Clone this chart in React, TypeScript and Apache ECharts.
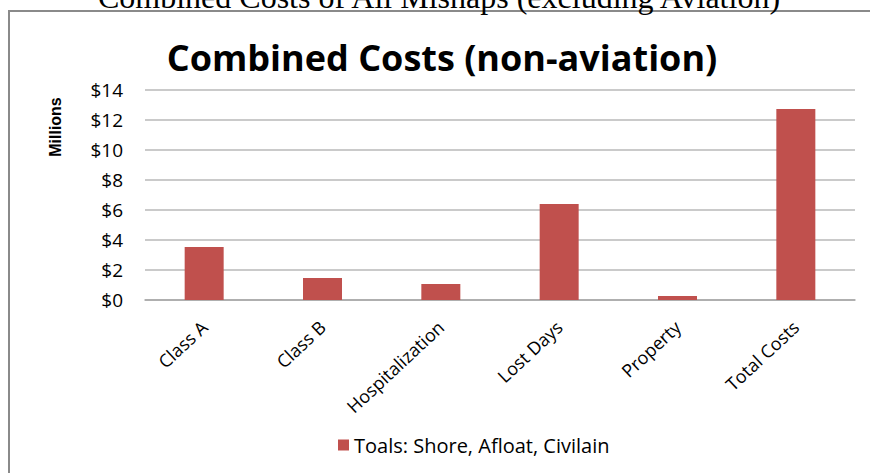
import React, { useEffect, useRef } from "react";
import * as echarts from "echarts";

const categories = ["Class A", "Class B", "Hospitalization", "Lost Days", "Property", "Total Costs"];
const values = [3.53, 1.47, 1.07, 6.4, 0.27, 12.73];
const seriesName = "Toals: Shore, Afloat, Civilain";
const pageTitle = "Combined Costs of All Mishaps (excluding Aviation)";
const chartTitle = "Combined Costs (non-aviation)";
const yAxisTitle = "Millions";
const yMin = 0;
const yMax = 14;
const yStep = 2;

export default function App() {
  const ref = useRef<HTMLDivElement>(null);
  useEffect(() => {
    if (!ref.current) return;
    const chart = echarts.init(ref.current, undefined, { renderer: "svg" });
    chart.setOption({
      animation: false,
      backgroundColor: "#ffffff",
      graphic: [
        {
          type: "polyline",
          shape: { points: [[9, 480], [9, 11], [880, 11]] },
          style: { fill: "none", stroke: "#8a8a8a", lineWidth: 2 },
          silent: true,
        },
        {
          type: "text",
          x: 439,
          y: -3,
          style: {
            text: pageTitle,
            fontFamily: "Liberation Serif",
            fontSize: 32,
            fill: "#000000",
            align: "center",
            verticalAlign: "middle",
          },
        },
        {
          type: "text",
          x: 442,
          y: 57,
          style: {
            text: chartTitle,
            fontFamily: "Open Sans",
            fontWeight: "bold",
            fontSize: 36,
            fill: "#000000",
            align: "center",
            verticalAlign: "middle",
          },
        },
        {
          type: "text",
          x: 55,
          y: 127,
          rotation: Math.PI / 2,
          style: {
            text: yAxisTitle,
            fontFamily: "Liberation Sans",
            fontWeight: "bold",
            fontSize: 16,
            fill: "#000000",
            align: "center",
            verticalAlign: "middle",
          },
        },
      ],
      legend: {
        show: true,
        data: [seriesName],
        left: 333,
        top: 430,
        itemWidth: 11,
        itemHeight: 11,
        itemGap: 6,
        icon: "rect",
        textStyle: { fontFamily: "Open Sans", fontSize: 20, color: "#000000" },
      },
      grid: { left: 145, right: 15, top: 90, bottom: 173, containLabel: false },
      xAxis: {
        type: "category",
        data: categories,
        axisLine: { show: true, lineStyle: { color: "#a6a6a6", width: 1.5 } },
        axisTick: { show: false },
        axisLabel: {
          rotate: 43,
          margin: 24,
          interval: 0,
          fontFamily: "Open Sans",
          fontSize: 18,
          color: "#000000",
        },
      },
      yAxis: {
        type: "value",
        min: yMin,
        max: yMax,
        interval: yStep,
        axisLine: { show: false },
        axisTick: { show: false },
        splitLine: { show: true, lineStyle: { color: "#b8b8b8", width: 1.5 } },
        axisLabel: {
          formatter: (v: number) => "$" + v,
          margin: 22,
          fontFamily: "Open Sans",
          fontSize: 19,
          color: "#000000",
        },
      },
      series: [
        {
          name: seriesName,
          type: "bar",
          data: values,
          barWidth: 39,
          itemStyle: { color: "#C0504D" },
        },
      ],
    });
    return () => chart.dispose();
  }, []);
  return (
    <div
      ref={ref}
      style={{ position: "absolute", left: 0, top: 0, width: 870, height: 473 }}
    />
  );
}
